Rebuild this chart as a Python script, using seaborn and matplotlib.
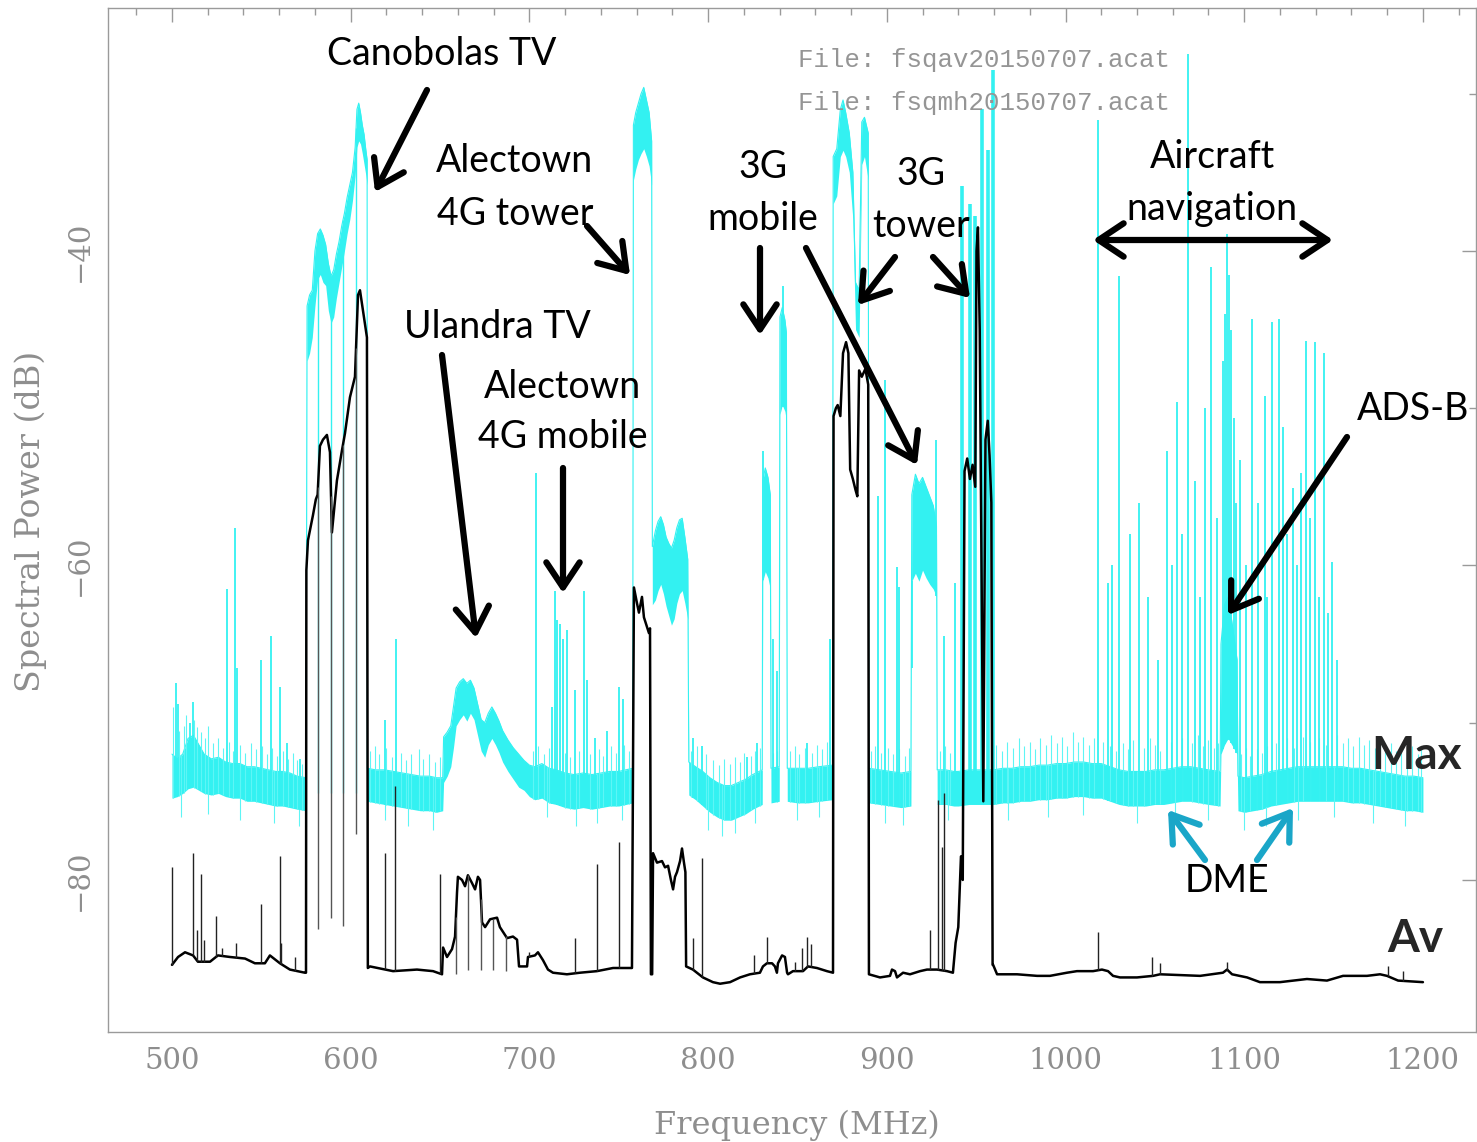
import numpy as np
import matplotlib
matplotlib.use("Agg")
import matplotlib.pyplot as plt
from matplotlib.ticker import MultipleLocator, FixedLocator
import seaborn as sns
import pandas as pd

# ---------------- data ----------------
# Max-hold trace: envelope of the noisy trace (freq MHz, lower dB, upper dB)
max_env_freq = [500, 503, 506, 509, 512, 515, 518, 522, 526, 530, 534, 538, 542, 546, 550, 554, 558, 562, 566, 570, 575,
                575.6, 577, 578.5, 580, 581.5, 583, 584.5, 586, 587.5, 589, 590.5, 592, 593.5, 595, 596.5, 598, 599.5,
                601, 602.5, 603.5, 604.5, 605.5, 606.5, 607.5, 608.5, 609.2,
                609.3, 614, 619, 624, 629, 634, 639, 644, 648, 651.5,
                652, 654, 656, 657.5, 659, 661, 663, 665, 667, 669, 671, 673, 675, 677, 679, 681, 683, 685, 688, 691,
                694, 697, 700,
                703, 707, 711, 715, 720, 725, 730, 735, 740, 745, 750, 754, 757.8,
                758.2, 759.5, 761, 762.5, 764, 765.5, 767, 768.4,
                768.8, 770.5, 772, 773.5, 775, 776.5, 778, 779.5, 781, 782.5, 784, 785.5, 787, 788.6,
                789.2, 793, 797, 801, 805, 809, 813, 817, 821, 825, 830.3,
                830.6, 832, 833.5, 834.8, 835.2, 839.8, 840.2, 841.5, 843, 843.8, 844.3, 850, 856, 862, 869.6,
                870, 872, 874, 875.5, 877, 879, 881, 882.5, 884.5, 886, 887.5, 889.6,
                890, 896, 902, 908, 913.5, 914, 916, 918, 920, 922, 924, 926, 927.8, 928.2, 933, 937.5, 940, 946, 952,
                958,
                959.8, 965, 970, 975, 980, 985, 990, 995, 1000, 1005, 1010, 1015, 1020, 1025, 1030, 1035, 1040, 1045,
                1050, 1055, 1060, 1065, 1070, 1075, 1080, 1086.5, 1087, 1089, 1091, 1093, 1096, 1096.5, 1100, 1105,
                1110, 1115, 1120, 1125, 1130, 1135, 1140, 1145, 1150, 1155, 1160, 1165, 1170, 1175, 1180, 1185, 1190,
                1195, 1200]
max_env_lo = [-74.8, -74.7, -74.5, -74.2, -74.1, -74.3, -74.5, -74.6, -74.5, -74.7, -74.8, -74.8, -75.0, -75.0, -75.1,
              -75.2, -75.3, -75.3, -75.4, -75.5, -75.6,
              -47.0, -46.5, -45.5, -43.5, -41.8, -41.5, -42.0, -42.2, -43.8, -44.6, -44.2, -43.0, -42.0, -41.0, -40.0,
              -38.9, -38.0, -36.8, -35.2, -33.4, -33.0, -33.2, -33.8, -34.5, -35.2, -35.8,
              -75.0, -75.1, -75.2, -75.3, -75.4, -75.5, -75.6, -75.6, -75.7, -75.6,
              -73.8, -73.4, -72.8, -71.6, -70.2, -69.8, -69.5, -69.9, -69.4, -69.8, -70.8, -71.8, -72.2, -71.4, -71.0,
              -71.4, -71.9, -72.5, -73.1, -73.6, -74.1, -74.3, -74.7,
              -74.9, -74.8, -75.1, -75.2, -75.4, -75.5, -75.4, -75.5, -75.4, -75.3, -75.3, -75.2, -75.1,
              -35.5, -34.8, -34.2, -33.8, -33.5, -34.0, -34.6, -35.8,
              -62.5, -62.2, -61.6, -61.2, -61.8, -62.6, -63.2, -63.8, -63.4, -62.4, -61.8, -61.6, -62.4, -63.4,
              -74.6, -74.9, -75.3, -75.7, -76.0, -76.2, -76.2, -76.0, -75.8, -75.5, -75.2,
              -61.0, -60.4, -60.8, -61.5, -75.1, -75.0, -50.4, -49.8, -50.2, -50.8, -75.0, -75.1, -75.1, -75.0, -74.9,
              -37.0, -36.5, -34.0, -33.6, -34.0, -35.0, -38.0, -45.0, -45.5, -34.5, -34.0, -35.5,
              -75.1, -75.2, -75.3, -75.4, -75.3, -61.0, -60.5, -61.0, -60.3, -60.8, -61.2, -61.5, -62.0, -75.2, -75.2,
              -75.3, -75.3, -75.2, -75.2, -75.2,
              -75.2, -75.1, -75.1, -75.0, -75.0, -74.9, -74.9, -74.8, -74.8, -74.7, -74.7, -74.8, -74.8, -75.0, -75.2,
              -75.3, -75.3, -75.3, -75.2, -75.2, -75.1, -75.0, -75.0, -75.1, -75.2, -75.3, -72.0, -71.4, -71.0,
              -71.4, -72.0, -75.6, -75.7, -75.6, -75.5, -75.3, -75.2, -75.1, -75.0, -75.0, -75.0, -75.0, -75.0, -75.0,
              -75.1, -75.1, -75.2, -75.3, -75.4, -75.5, -75.6, -75.6, -75.7]
max_env_hi = [-72.0, -72.3, -72.0, -71.0, -70.8, -71.4, -72.0, -72.3, -72.2, -72.5, -72.6, -72.6, -72.8, -72.8, -72.9,
              -73.0, -73.1, -73.1, -73.2, -73.4, -73.5,
              -43.5, -42.8, -42.5, -40.0, -38.9, -38.6, -39.0, -39.6, -40.8, -41.6, -41.2, -40.2, -39.4, -38.4, -37.6,
              -36.6, -35.8, -35.0, -33.4, -31.0, -30.6, -31.2, -32.0, -32.6, -33.6, -34.2,
              -72.9, -73.0, -73.0, -73.1, -73.2, -73.3, -73.4, -73.4, -73.5, -73.5,
              -70.9, -70.6, -70.2, -69.0, -67.8, -67.4, -67.2, -67.5, -67.3, -67.8, -68.8, -69.8, -70.0, -69.4, -69.0,
              -69.4, -69.9, -70.5, -71.1, -71.6, -72.0, -72.4, -72.7,
              -72.8, -72.6, -72.9, -73.0, -73.2, -73.3, -73.2, -73.3, -73.2, -73.1, -73.1, -73.0, -72.9,
              -32.0, -31.2, -30.6, -30.0, -29.6, -30.4, -31.2, -33.0,
              -58.8, -57.8, -57.2, -56.9, -57.4, -58.2, -58.6, -58.9, -58.4, -57.6, -57.1, -57.0, -58.2, -59.6,
              -72.5, -72.8, -73.1, -73.5, -73.8, -74.0, -74.0, -73.8, -73.6, -73.3, -73.0,
              -54.6, -53.8, -54.4, -55.5, -72.9, -72.8, -44.2, -43.6, -44.4, -45.2, -72.9, -72.9, -72.9, -72.8, -72.7,
              -34.0, -33.5, -31.0, -30.4, -31.2, -32.5, -35.0, -42.0, -42.5, -31.8, -31.5, -32.5,
              -72.9, -73.0, -73.1, -73.2, -73.1, -55.5, -54.2, -54.8, -54.4, -55.0, -55.6, -56.2, -57.5, -73.0, -73.0,
              -73.1, -73.1, -73.0, -73.0, -73.0,
              -73.0, -72.9, -72.9, -72.8, -72.8, -72.7, -72.7, -72.6, -72.6, -72.5, -72.5, -72.6, -72.6, -72.8, -73.0,
              -73.1, -73.1, -73.1, -73.0, -73.0, -72.9, -72.8, -72.8, -72.9, -73.0, -73.1, -65.0, -62.5, -62.0,
              -63.5, -66.0, -73.4, -73.5, -73.4, -73.3, -73.1, -73.0, -72.9, -72.8, -72.8, -72.8, -72.8, -72.8, -72.8,
              -72.9, -72.9, -73.0, -73.1, -73.2, -73.3, -73.4, -73.4, -73.5]

# short noise hairs rising from the max-hold floor (freq, top dB)
max_hair_freq = [500.5, 504, 506.5, 508, 512.5, 514, 516, 518.5, 520, 523, 526, 528.5, 532, 534, 538, 541, 544, 547,
                 550.5, 553, 556, 558.5, 562, 565, 567.5, 570, 573,
                 611, 613.5, 616, 620, 623, 628, 631, 634, 638, 640.5, 644, 647, 650,
                 702, 705, 708, 711, 720, 723, 728, 734, 739, 741, 745.5, 748.5, 753, 756,
                 790.5, 794, 799, 803, 806, 809, 812, 815, 818, 820, 824, 826, 829, 836.5, 838.8,
                 846, 848.5, 851, 854, 858, 861, 864, 866.5,
                 891, 893.5, 897, 900.5, 903.5, 907, 910, 912.5, 929.5, 932.5, 935.5,
                 961, 964.5, 967.5, 970.5, 974, 977, 980, 983, 986, 989, 992, 995, 998, 1001, 1004, 1007, 1010, 1013,
                 1016, 1021, 1025, 1028, 1032, 1035, 1038, 1044, 1047, 1050, 1053, 1059, 1065, 1071, 1074, 1077, 1080,
                 1083, 1085.5,
                 1098, 1101, 1103, 1107, 1110, 1113, 1118, 1124, 1128, 1133, 1137, 1142, 1145.5, 1152, 1155, 1158,
                 1161, 1164, 1167, 1170, 1173, 1176, 1179, 1182, 1185, 1188, 1191, 1194, 1197, 1199]
max_hair_top = [-69.0, -70.5, -70.2, -69.5, -69.8, -70.3, -70.6, -71.0, -70.2, -71.3, -71.0, -71.6, -71.2, -71.8, -71.4,
                -71.9, -71.3, -71.7, -71.5, -72.0, -71.6, -72.1, -71.8, -72.3, -71.9, -72.4, -72.6,
                -71.8, -71.5, -72.0, -71.6, -72.2, -71.9, -72.4, -72.0, -71.7, -72.3, -72.0, -72.5, -72.2,
                -71.8, -71.5, -72.0, -71.6, -71.9, -72.2, -71.8, -72.0, -71.7, -72.1, -71.5, -71.9, -71.4, -71.8,
                -71.8, -71.5, -72.0, -72.4, -72.7, -72.3, -72.6, -72.2, -72.5, -71.9, -72.1, -71.8, -71.6, -71.9,
                -71.8,
                -71.8, -71.5, -72.0, -71.6, -71.9, -71.4, -71.7, -71.2,
                -71.8, -71.5, -71.9, -71.6, -72.0, -71.7, -72.1, -71.6, -71.8, -71.5, -71.9,
                -71.4, -71.8, -71.2, -71.6, -71.0, -71.5, -71.2, -71.7, -71.0, -71.4, -70.8, -71.3, -70.9, -71.5,
                -70.6, -71.2, -70.9, -71.4, -71.0, -71.2, -71.5, -71.8, -71.3, -71.7, -71.1, -71.6, -71.0, -71.4,
                -71.8, -71.2, -71.0, -71.3, -70.8, -71.5, -71.1, -71.6, -71.3,
                -72.0, -71.6, -72.1, -71.7, -71.9, -71.5, -71.3, -71.0, -71.6, -70.9, -71.2, -71.0, -71.4, -70.8,
                -71.3, -71.0, -71.5, -70.9, -71.4, -71.1, -71.6, -71.2, -71.7, -71.3, -71.8, -71.4, -71.9, -71.5,
                -72.0, -71.7]
# short noise hairs dropping below the floor (freq, bottom dB)
max_low_freq = [505, 520, 538, 557, 571, 619, 632, 646, 710, 726, 738, 752, 800, 808, 815, 826, 850, 862, 899, 909,
                934, 968, 990, 1010, 1040, 1061, 1080, 1100, 1112, 1130, 1150, 1172, 1190]
max_low_bottom = [-76.0, -75.8, -76.2, -76.4, -76.6, -76.2, -76.6, -76.8, -76.0, -76.6, -76.4, -76.2, -76.8, -77.2,
                  -77.0, -76.4, -76.2, -76.0, -76.4, -76.5, -76.2, -76.2, -76.0, -75.9, -76.4, -76.0, -76.2, -76.8,
                  -76.6, -76.2, -76.0, -76.4, -76.6]

# Max-hold narrow spikes (freq MHz, top dB)
max_spike_freq = [502.2, 503.5, 510.0, 511.8, 530.8, 535.3, 536.4, 549.8, 555.4, 560.4, 564.4, 571.6, 619.2, 625.3,
                  703.7, 712.6, 714.3, 715.4, 717.1, 718.8, 721.0, 725.5, 730.6, 732.2, 736.7, 743.4, 750.1, 752.4,
                  791.5, 796.6, 821.8, 827.4, 830.7, 836.2, 838.5, 842.0, 855.3, 868.2, 895.0, 899.0, 905.7, 906.8,
                  914.0, 927.5, 932.0, 938.2, 1018.2, 1023.8, 1026.0,
                  1030.0, 1036.0, 1041.1, 1046.0, 1052.0, 1056.8, 1059.5, 1062.4, 1065.0, 1068.5, 1072.5, 1075.5,
                  1078.0, 1081.4, 1085.0, 1088.0, 1089.2, 1090.4, 1091.5, 1092.6, 1094.3, 1095.5, 1097.7, 1101.0,
                  1104.4, 1107.5, 1111.6, 1113.0, 1115.6, 1119.5, 1121.7, 1124.0, 1127.3, 1129.5, 1131.8, 1134.6,
                  1137.0, 1139.6, 1142.0, 1144.7, 1146.9, 1149.1, 1152.0]
max_spike_top = [-67.5, -68.8, -70.0, -68.7, -61.5, -57.6, -66.5, -66.0, -64.5, -67.7, -71.3, -72.3, -69.8, -64.7,
                 -54.1, -69.0, -61.6, -63.5, -63.7, -64.7, -64.1, -67.9, -61.6, -67.3, -71.0, -70.5, -67.7, -68.5,
                 -71.0, -71.5, -72.2, -71.3, -52.7, -64.7, -66.7, -42.2, -71.3, -64.7, -55.6, -48.2, -60.1, -61.4,
                 -66.5, -52.0, -64.5, -61.1, -31.7, -61.1, -60.0,
                 -41.6, -58.0, -56.0, -62.0, -66.0, -52.7, -60.0, -49.6, -58.0, -27.5, -54.6, -62.0,
                 -50.0, -41.0, -57.0, -47.0, -44.0, -38.9, -41.5, -45.0, -50.6, -56.0, -53.3, -60.0,
                 -44.3, -56.0, -49.2, -62.0, -44.5, -44.3, -51.2, -58.0, -55.1, -60.0, -54.1, -45.7,
                 -57.0, -45.8, -62.0, -46.5, -63.0, -59.8, -66.0]
# the strong mobile-tower carriers near 940-960 MHz (freq, top dB)
max_tower_freq = [942.1, 946.5, 949.3, 953.3, 956.6, 959.4]
max_tower_top = [-35.9, -37.0, -37.8, -31.0, -33.6, -28.5]
# gaps between TV channels in the max trace (freq, bottom dB)
max_dip_freq = [581.7, 589.0, 595.7, 603.0]
max_dip_bottom = [-74.5, -74.5, -74.5, -74.5]

# Average trace (freq MHz, dB)
av_freq = [500.0, 503.4, 507.3, 511.8, 514.5, 521.3, 525.7, 532.5, 540.9, 546.4, 552.0, 554.8, 560.4, 566.0, 574.4,
           575.0, 575.2, 576.1, 578.9, 580.5, 581.5, 582.8, 584.5, 586.7, 588.4, 589.5, 592.3, 595.1, 596.8, 599.6,
           602.4, 604.1, 605.2, 606.9, 609.1, 609.6,
           610.8, 623.7, 637.1, 646.1, 651.1,
           651.7, 653.9, 656.7, 658.4, 659.5, 660.0, 662.3, 664.0, 665.6, 667.9, 669.6, 671.2, 672.4, 673.5, 675.2,
           678.0, 681.9, 683.5, 687.5, 690.8, 693.1, 694.2, 698.7, 699.2, 703.1, 704.8, 707.6, 710.4, 713.2, 721.0,
           728.3, 737.8, 746.8, 757.4,
           758.5, 760.2, 761.3, 763.0, 764.1, 765.8, 766.9, 767.5, 768.0, 768.7,
           769.2, 771.4, 774.2, 775.9, 777.6, 779.2, 780.4, 781.5, 782.6, 784.3, 785.4, 786.5, 787.3, 787.7,
           791.5, 797.1, 802.7, 806.7, 812.3, 817.9, 823.4, 829.0, 830.7, 832.9, 835.8, 837.4, 838.5, 839.1, 841.4,
           843.0, 844.2, 844.7, 847.5, 853.1, 855.9, 860.9, 866.5, 869.9,
           870.2, 871.5, 872.5, 874.0, 875.5, 877.2, 878.5, 879.5, 881.0, 882.5, 883.5, 884.5, 886.0, 888.0, 889.6,
           890.0, 896.2, 901.8, 902.9, 904.6, 905.7, 909.1, 913.0, 918.6, 922.5, 928.1, 933.7, 937.0,
           938.5, 940.0, 941.5, 942.5, 943.5, 945.0, 946.5, 948.0, 949.5, 950.2, 951.0, 952.0, 953.0, 954.0, 955.2,
           956.5, 957.5, 958.5, 959.2,
           959.5, 961.7, 972.9, 984.1, 991.3, 1000.8, 1006.4, 1015.4, 1020.4, 1023.8, 1026.6, 1030.5, 1040.0,
           1049.0, 1052.9, 1075.3, 1088.1, 1090.4, 1093.2, 1101.6, 1108.8, 1120.0, 1135.1, 1146.3, 1155.3, 1168.7,
           1176.0, 1179.9, 1186.1, 1200.0]
av_db = [-85.4, -84.9, -84.6, -84.8, -85.2, -85.2, -84.8, -84.9, -85.0, -85.3, -85.3, -84.8, -85.3, -85.7, -85.9,
         -85.9, -60.3, -58.4, -56.8, -55.8, -55.5, -52.4, -52.0, -51.7, -52.8, -57.9, -54.6, -52.7, -51.6, -49.3,
         -48.0, -42.8, -42.5, -43.8, -45.5, -85.6,
         -85.5, -85.8, -85.7, -85.8, -86.0,
         -84.3, -84.9, -84.4, -83.6, -80.8, -79.8, -80.0, -80.4, -79.7, -80.2, -80.6, -79.8, -80.0, -82.7, -83.0,
         -82.5, -82.4, -83.0, -83.7, -83.6, -83.8, -85.5, -85.5, -84.9, -84.8, -84.6, -85.1, -85.7, -85.9, -86.0,
         -85.9, -85.8, -85.6, -85.6,
         -61.4, -62.4, -63.0, -62.0, -63.3, -63.9, -64.3, -64.0, -86.0, -86.0,
         -78.3, -78.9, -78.8, -79.2, -79.1, -80.0, -80.6, -79.8, -79.5, -78.8, -78.0, -78.9, -79.5, -85.5,
         -85.7, -86.2, -86.5, -86.6, -86.5, -86.2, -86.0, -85.9, -85.5, -85.3, -85.3, -85.5, -85.9, -85.3, -84.8,
         -84.9, -85.9, -86.0, -85.8, -85.8, -85.5, -85.6, -85.8, -85.9,
         -50.5, -50.0, -49.8, -50.5, -46.5, -45.8, -46.5, -53.9, -54.5, -55.2, -55.6, -47.6, -48.0, -47.5, -48.5,
         -86.0, -86.2, -86.1, -85.7, -85.8, -86.2, -85.9, -86.0, -85.8, -85.7, -85.7, -85.8, -85.9,
         -84.0, -83.0, -78.5, -80.0, -54.0, -53.2, -54.5, -53.6, -55.0, -40.0, -38.5, -45.0, -60.0, -75.0, -52.0,
         -50.8, -53.0, -56.0, -85.4,
         -85.4, -86.0, -86.0, -86.1, -86.1, -85.9, -85.8, -85.8, -85.7, -85.8, -86.1, -86.2, -86.2,
         -86.1, -86.0, -86.1, -85.9, -85.7, -86.0, -86.2, -86.5, -86.5, -86.3, -86.4, -86.1, -86.1,
         -86.0, -86.1, -86.4, -86.5]

# Average trace narrow spikes (freq, top dB)
av_spike_freq = [500.0, 511.8, 514.0, 516.2, 517.9, 524.6, 528.0, 535.8, 549.8, 560.4, 561.0, 568.8, 619.2, 624.8,
                 650.0, 699.8, 725.5, 737.8, 750.1, 791.5, 796.6, 825.7, 832.9, 848.6, 852.5, 855.3, 857.6, 924.2,
                 928.7, 930.9, 932.0, 1018.2, 1048.4, 1052.9, 1090.4, 1180.5, 1188.9]
av_spike_top = [-79.2, -78.3, -83.2, -79.6, -83.8, -82.3, -84.3, -84.0, -81.5, -78.5, -84.0, -84.9, -78.3, -74.0,
                -79.6, -84.6, -83.7, -79.0, -77.6, -83.7, -78.6, -84.8, -83.6, -85.2, -84.3, -83.6, -84.1, -83.2,
                -74.9, -77.9, -74.5, -83.3, -84.9, -85.3, -85.2, -85.5, -85.8]
# drop-outs of the average trace between channels (freq, bottom dB)
av_dip_freq = [581.7, 589.0, 595.7, 603.0, 658.9, 665.6, 672.9, 679.6, 686.9]
av_dip_bottom = [-83.1, -82.4, -82.9, -77.1, -86.0, -85.7, -85.7, -85.7, -85.8]

# ---------------- figure ----------------
sns.set_style("white")
plt.rcParams["font.family"] = ["DejaVu Sans"]

W, H = 1477, 1142
fig = plt.figure(figsize=(W / 100, H / 100), dpi=100)
ax = fig.add_axes([108 / W, (H - 1032) / H, (1476 - 108) / W, (1032 - 8) / H])

CYAN = "#33f1f1"
HAIR = "#5ef5f5"
GRAY = "#8e8e8e"

ax.fill_between(max_env_freq, max_env_lo, max_env_hi, color=CYAN, lw=0, zorder=2)
env = pd.DataFrame({"f": max_env_freq, "hi": max_env_hi})
sns.lineplot(data=env, x="f", y="hi", ax=ax, color=CYAN, lw=0.8, zorder=2.1)
ax.vlines(max_hair_freq, np.interp(max_hair_freq, max_env_freq, max_env_lo), max_hair_top,
          color=HAIR, lw=0.8, zorder=2.1)
ax.vlines(max_low_freq, max_low_bottom, np.interp(max_low_freq, max_env_freq, max_env_hi),
          color=HAIR, lw=0.8, zorder=2.1)
spike_base = np.interp(max_spike_freq, max_env_freq, max_env_lo)
ax.vlines(max_spike_freq, spike_base, max_spike_top, color=CYAN, lw=1.3, zorder=2.2)
ax.vlines(max_tower_freq, np.interp(max_tower_freq, max_env_freq, max_env_lo), max_tower_top,
          color=CYAN, lw=2.6, zorder=2.2)
ax.vlines(max_dip_freq, max_dip_bottom, np.interp(max_dip_freq, max_env_freq, max_env_hi),
          color=CYAN, lw=1.0, zorder=2.2)

av = pd.DataFrame({"f": av_freq, "db": av_db})
sns.lineplot(data=av, x="f", y="db", ax=ax, color="black", lw=1.8, zorder=3)
ax.vlines(av_spike_freq, np.interp(av_spike_freq, av_freq, av_db), av_spike_top, color="#222222", lw=1.0, zorder=3)
ax.vlines(av_dip_freq, av_dip_bottom, np.interp(av_dip_freq, av_freq, av_db), color="#555555", lw=1.0, zorder=3)

ax.set_xlim(464.2, 1229.7)
ax.set_ylim(-89.67, -24.55)
ax.set_xlabel("")
ax.set_ylabel("")

ax.xaxis.set_major_locator(FixedLocator([500, 600, 700, 800, 900, 1000, 1100, 1200]))
ax.xaxis.set_minor_locator(MultipleLocator(20))
ax.yaxis.set_major_locator(FixedLocator([-80, -60, -40]))
ax.yaxis.set_minor_locator(MultipleLocator(10))
tickfont = dict(family="DejaVu Serif", size=21, color=GRAY)
ax.set_xticklabels(["500", "600", "700", "800", "900", "1000", "1100", "1200"], fontdict=tickfont)
ax.set_yticklabels(["\u221280", "\u221260", "\u221240"], fontdict=tickfont, rotation=90, va="center")
ax.tick_params(which="both", direction="in", top=True, right=True, color="#9a9a9a", width=1)
ax.tick_params(which="major", length=10)
ax.tick_params(which="minor", length=5)
ax.tick_params(axis="x", pad=11)
ax.tick_params(axis="y", pad=10)
for s in ax.spines.values():
    s.set_color("#9a9a9a")
    s.set_linewidth(1.0)

# axis titles and file names
fig.text(797 / W, 1 - 1125 / H, "Frequency (MHz)", ha="center", va="center",
         family="DejaVu Serif", size=23, color=GRAY)
fig.text(31 / W, 1 - 521 / H, "Spectral Power (dB)", ha="center", va="center", rotation=90,
         family="DejaVu Serif", size=24, color=GRAY)
fig.text(798 / W, 1 - 67 / H, "File: fsqav20150707.acat", ha="left", va="baseline",
         family="Liberation Mono", size=18.5, color="#959595")
fig.text(798 / W, 1 - 110 / H, "File: fsqmh20150707.acat", ha="left", va="baseline",
         family="Liberation Mono", size=18.5, color="#959595")

# ---------------- annotations ----------------
LFONT = "Lato"
labels = [("Canobolas TV", 442, 65), ("Alectown", 515, 172), ("4G tower", 515, 225),
          ("3G", 763, 178), ("mobile", 763, 230), ("3G", 921, 185), ("tower", 921, 237),
          ("Aircraft", 1212, 168), ("navigation", 1212, 220), ("Ulandra TV", 497, 338),
          ("Alectown", 563, 398), ("4G mobile", 563, 448), ("ADS-B", 1413, 420), ("DME", 1227, 892)]
for txt, x, y in labels:
    fig.text(x / W, 1 - y / H, txt, ha="center", va="baseline", family=LFONT, size=27, color="black")
fig.text(1417 / W, 1 - 769 / H, "Max", ha="center", va="baseline", family=LFONT, weight="bold", size=33)
fig.text(1415 / W, 1 - 952 / H, "Av", ha="center", va="baseline", family=LFONT, weight="bold", size=33)

arrows = [((427, 90), (375, 192)), ((587, 226), (630, 275)), ((760, 248), (760, 335)),
          ((806, 248), (917, 465)), ((895, 257), (858, 305)), ((933, 257), (970, 298)),
          ((442, 355), (476, 638)), ((563, 468), (563, 593)), ((1347, 437), (1228, 615))]
for (x0, y0), (x1, y1) in arrows:
    ax.annotate("", xy=(x1, H - y1), xytext=(x0, H - y0), xycoords="figure pixels", textcoords="figure pixels",
                arrowprops=dict(arrowstyle="->,head_length=0.6,head_width=0.4", lw=4.5, color="black",
                                mutation_scale=30, shrinkA=0, shrinkB=0), zorder=10)
ax.annotate("", xy=(1333, H - 240), xytext=(1093, H - 240), xycoords="figure pixels", textcoords="figure pixels",
            arrowprops=dict(arrowstyle="<->,head_length=0.6,head_width=0.4", lw=4.5, color="black",
                            mutation_scale=30, shrinkA=0, shrinkB=0), zorder=10)
for (x0, y0), (x1, y1) in [((1205, 860), (1168, 810)), ((1257, 860), (1293, 808))]:
    ax.annotate("", xy=(x1, H - y1), xytext=(x0, H - y0), xycoords="figure pixels", textcoords="figure pixels",
                arrowprops=dict(arrowstyle="->,head_length=0.6,head_width=0.4", lw=4.5, color="#1aa6c8",
                                mutation_scale=30, shrinkA=0, shrinkB=0), zorder=10)

fig.savefig("out.png", dpi=100)
